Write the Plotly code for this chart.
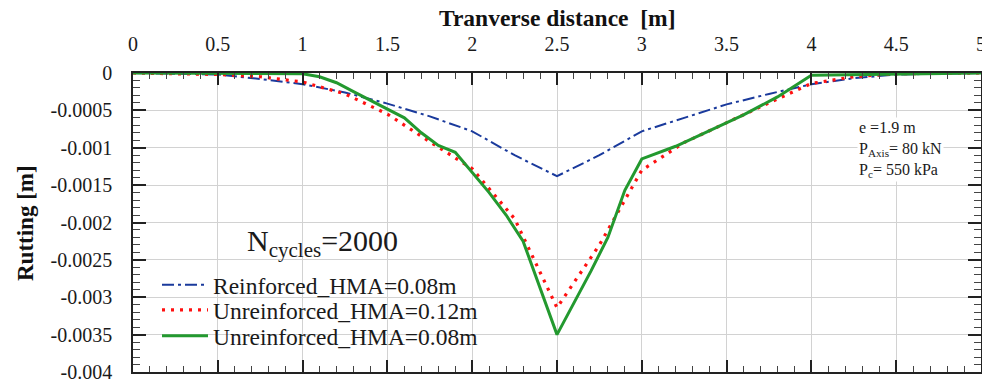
import plotly.graph_objects as go

# ---------------- data ----------------
x_reinf_008 = [0, 0.5, 0.75, 1.0, 1.25, 1.5, 1.75, 2.0, 2.25, 2.5, 2.75, 3.0, 3.25, 3.5, 3.75, 4.0, 4.25, 4.5, 5.0]
rut_reinf_008 = [0, -0.00002, -0.00008, -0.00015, -0.00026, -0.00041, -0.00058, -0.00078, -0.0011, -0.00138,
                 -0.0011, -0.00078, -0.0006, -0.00042, -0.00028, -0.00015, -0.00007, -0.00002, 0]

x_unreinf_012 = [0, 0.5, 0.75, 1.0, 1.25, 1.5, 1.75, 2.0, 2.25, 2.5, 2.75, 3.0, 3.25, 3.5, 3.75, 4.0, 4.25, 4.5, 5.0]
rut_unreinf_012 = [0, -0.00002, -0.00005, -0.00012, -0.00028, -0.00055, -0.00092, -0.00128, -0.00195, -0.00314,
                   -0.0023, -0.0013, -0.00093, -0.00066, -0.0004, -0.00014, -0.00005, -0.00001, 0]

x_unreinf_008 = [0, 1.0, 1.1, 1.2, 1.3, 1.4, 1.5, 1.6, 1.7, 1.8, 1.9, 2.0, 2.1, 2.2, 2.3, 2.5,
                 2.7, 2.8, 2.9, 3.0, 3.2, 3.4, 3.6, 3.8, 3.9, 4.0, 5.0]
rut_unreinf_008 = [0, -0.00001, -0.00005, -0.00013, -0.00025, -0.00037, -0.00048, -0.0006, -0.0008, -0.00097,
                   -0.00106, -0.00133, -0.0016, -0.0019, -0.00225, -0.0035,
                   -0.00265, -0.0022, -0.00157, -0.00115, -0.00098, -0.00077, -0.00056, -0.00032, -0.00018, -0.00003, 0]

series_names = ["Reinforced_HMA=0.08m", "Unreinforced_HMA=0.12m", "Unreinforced_HMA=0.08m"]

x_tickvals = [0, 0.5, 1, 1.5, 2, 2.5, 3, 3.5, 4, 4.5, 5]
x_ticktext = ["0", "0.5", "1", "1.5", "2", "2.5", "3", "3.5", "4", "4.5", "5"]
y_tickvals = [0, -0.0005, -0.001, -0.0015, -0.002, -0.0025, -0.003, -0.0035, -0.004]
y_ticktext = ["0", "-0.0005", "-0.001", "-0.0015", "-0.002", "-0.0025", "-0.003", "-0.0035", "-0.004"]

x_title = "Tranverse distance  [m]"
y_title = "Rutting [m]"
cycles_text = "N<sub>cycles</sub>=2000"
params_text = "e =1.9 m<br>P<sub>Axis</sub>= 80 kN<br>P<sub>c</sub>= 550 kPa"

# ---------------- figure ----------------
FONT = "Liberation Serif, Times New Roman, serif"
W, H = 982, 383
L, R, T, B = 133, 1, 73, 11
PW, PH = W - L - R, H - T - B


def px_x(p):
    return (p - L) / PW


def px_y(p):
    return 1 - (p - T) / PH


fig = go.Figure()
fig.add_trace(go.Scatter(x=x_reinf_008, y=rut_reinf_008, mode="lines", name=series_names[0], showlegend=True,
                         line=dict(color="#1a3a9c", width=2, dash="12px,4px,3px,4px"), legend="legend"))
fig.add_trace(go.Scatter(x=x_unreinf_012, y=rut_unreinf_012, mode="lines", name=series_names[1], showlegend=True,
                         line=dict(color="#ff1010", width=3.2, dash="3px,6px"), legend="legend2"))
fig.add_trace(go.Scatter(x=x_unreinf_008, y=rut_unreinf_008, mode="lines", name=series_names[2], showlegend=True,
                         line=dict(color="#23992f", width=3), legend="legend3"))

leg_common = dict(xanchor="left", yanchor="middle", bgcolor="rgba(0,0,0,0)",
                  font=dict(family=FONT, size=23.5, color="#1a1a1a"), itemwidth=46)
rows = [285, 310, 336]

fig.update_layout(
    width=W, height=H,
    showlegend=True,
    margin=dict(l=L, r=R, t=T, b=B, pad=0, autoexpand=False),
    paper_bgcolor="white", plot_bgcolor="white",
    font=dict(family=FONT, color="#1a1a1a"),
    legend=dict(x=px_x(157), y=px_y(rows[0]), visible=True, **leg_common),
    legend2=dict(x=px_x(157), y=px_y(rows[1]), visible=True, **leg_common),
    legend3=dict(x=px_x(157), y=px_y(rows[2]), visible=True, **leg_common),
    xaxis=dict(
        side="top", range=[0, 5], tickmode="array", tickvals=x_tickvals, ticktext=x_ticktext,
        automargin=False, ticklabeloverflow="allow",
        ticks="inside", ticklen=12, tickwidth=1.5, tickcolor="#222",
        showline=True, linecolor="#222", linewidth=1.5, mirror="allticks",
        showgrid=True, gridcolor="#d2d2d2", gridwidth=1, zeroline=False,
        tickfont=dict(family=FONT, size=20, color="#1a1a1a"), ticklabelstandoff=12,
        minor=dict(dtick=0.1, tick0=0, ticks="inside", ticklen=6, tickcolor="#444", tickwidth=1, showgrid=False),
    ),
    yaxis=dict(
        range=[-0.004, 0], tickmode="array", tickvals=y_tickvals, ticktext=y_ticktext,
        automargin=False, ticklabeloverflow="allow",
        ticks="inside", ticklen=13, tickwidth=1.5, tickcolor="#222",
        showline=True, linecolor="#222", linewidth=1.5, mirror="allticks",
        showgrid=True, gridcolor="#d2d2d2", gridwidth=1, zeroline=False,
        tickfont=dict(family=FONT, size=20, color="#1a1a1a"), ticklabelstandoff=15,
        minor=dict(dtick=0.0001, tick0=0, ticks="inside", ticklen=7, tickcolor="#444", tickwidth=1, showgrid=False),
    ),
    shapes=[dict(type="rect", xref="paper", yref="paper", x0=px_x(165), x1=px_x(482), y0=0.003, y1=px_y(226),
                 fillcolor="white", line=dict(width=0), layer="between")],
    annotations=[
        dict(text="<b>" + x_title + "</b>", xref="paper", yref="paper", x=px_x(557), y=px_y(18),
             xanchor="center", yanchor="middle", showarrow=False, font=dict(family=FONT, size=23.5, color="#111")),
        dict(text="<b>" + y_title + "</b>", xref="paper", yref="paper", x=px_x(25), y=px_y(223),
             xanchor="center", yanchor="middle", textangle=-90, showarrow=False,
             font=dict(family=FONT, size=23, color="#111")),
        dict(text=cycles_text, xref="paper", yref="paper", x=px_x(322), y=px_y(243),
             xanchor="center", yanchor="middle", showarrow=False, font=dict(family=FONT, size=30, color="#1a1a1a")),
        dict(text=params_text, xref="paper", yref="paper", x=px_x(857), y=px_y(149),
             xanchor="left", yanchor="middle", align="left", showarrow=False, bgcolor="white",
             font=dict(family=FONT, size=16, color="#1a1a1a")),
    ],
)

fig.write_html("out.html", config={"displayModeBar": False},
               post_script="document.body.style.margin='0';")
